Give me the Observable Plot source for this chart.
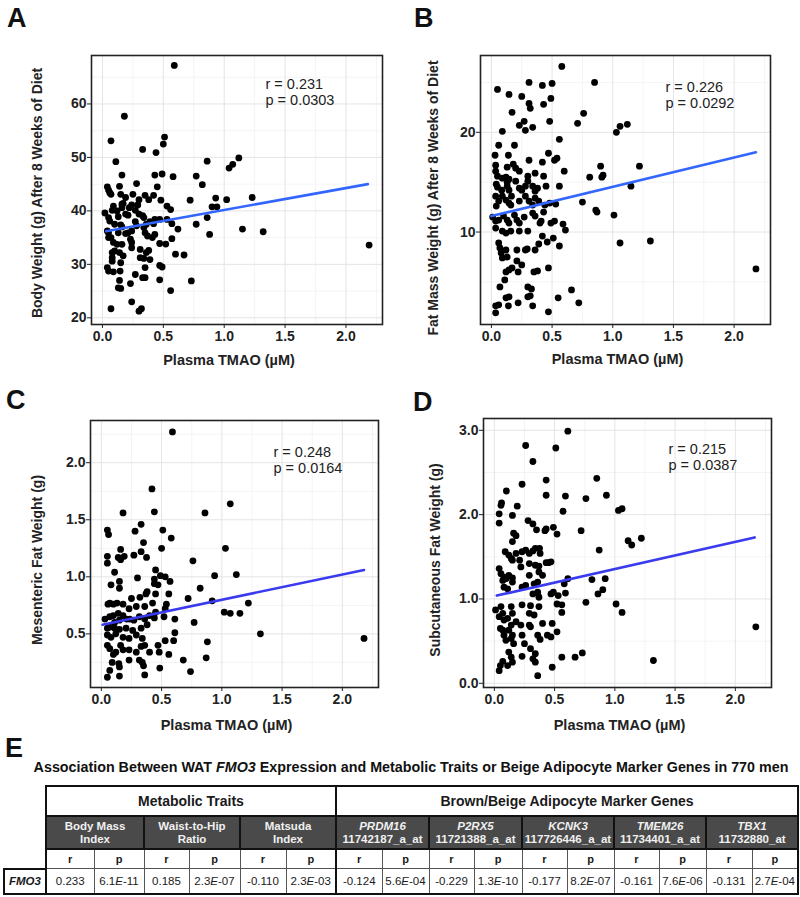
<!DOCTYPE html>
<html><head><meta charset="utf-8">
<script src="https://cdn.jsdelivr.net/npm/d3@7"></script>
<script src="https://cdn.jsdelivr.net/npm/@observablehq/plot@0.6"></script>
<style>
body{margin:0;background:#fff;font-family:"Liberation Sans",Arial,sans-serif;}
#page{position:relative;width:800px;height:897px;overflow:hidden;background:#fff;}
.panel{position:absolute;}
.letter{position:absolute;font-size:27px;font-weight:bold;line-height:27px;color:#111;}
#ttl{position:absolute;left:0;width:822px;top:758px;text-align:center;font-size:14.3px;font-weight:bold;color:#111;white-space:nowrap;line-height:18px;}
table.tb{position:absolute;left:3px;top:785px;width:794px;border-collapse:collapse;table-layout:fixed;color:#1a1a1a;}
table.tb td{padding:0;text-align:center;vertical-align:middle;overflow:hidden;white-space:nowrap;}
td.blank{border:none;}
td.grp{height:28px;font-size:14px;font-weight:bold;border:2px solid #111;background:#fff;}
td.dark{height:31px;background:#4a4a4a;color:#f0f0f0;font-size:11.5px;font-weight:bold;line-height:13px;border:2px solid #111;}
td.rp{height:18px;font-size:11px;font-weight:bold;border:1px solid #555;}
td.val{height:24px;font-size:11.5px;border:1px solid #555;}
td.row{font-size:11.5px;font-weight:bold;font-style:italic;border:2px solid #111;}
td.lg{border-left:2px solid #111;}
td.rg{border-right:2px solid #111;}
td.bt{border-bottom:2px solid #111;}
</style></head><body><div id="page"></div>
<script>
// ---------- data ----------
const xTicks = [0, 0.5, 1, 1.5, 2];
const xMinor = [0.25, 0.75, 1.25, 1.75, 2.25];
const xLabel = "Plasma TMAO (\u00b5M)";

const pointsA = [[0.59,67.2],[0.18,57.7],[0.07,53.1],[0.51,53.8],[0.50,52.5],[0.33,51.5],[0.44,50.9],[0.11,49.2],[0.86,49.3],[1.12,49.9],[1.07,48.7],[1.04,48.0],[0.16,46.7],[0.43,46.7],[0.49,46.9],[0.58,46.4],[0.77,46.5],[0.82,44.9],[0.28,45.1],[0.04,44.5],[0.14,44.6],[0.45,44.5],[0.05,43.9],[0.06,43.4],[0.07,43.1],[0.15,43.1],[0.19,42.5],[0.25,43.1],[0.30,42.1],[0.35,42.9],[0.38,42.1],[0.42,42.9],[0.48,42.0],[0.72,42.0],[0.93,42.4],[1.02,42.1],[1.23,42.5],[0.16,41.25],[0.17,41.4],[0.24,41.1],[0.29,41.1],[0.09,40.9],[0.22,40.6],[0.16,40.6],[0.53,40.9],[0.56,40.25],[0.90,40.75],[0.94,40.75],[0.02,39.6],[0.08,40.1],[0.05,38.75],[0.12,40.0],[0.13,38.9],[0.21,39.2],[0.27,40.1],[0.30,39.4],[0.33,39.1],[0.34,38.75],[0.19,39.4],[0.43,38.4],[0.47,38.4],[0.53,38.4],[0.86,38.75],[0.57,37.6],[0.62,36.6],[0.77,37.5],[0.10,37.5],[0.15,37.4],[0.16,37.0],[0.13,35.9],[0.19,35.75],[0.21,35.9],[0.24,36.25],[0.28,37.2],[0.27,38.0],[0.06,38.1],[0.04,36.25],[0.05,35.9],[0.34,36.9],[0.35,35.9],[0.36,37.5],[0.39,38.0],[0.42,37.6],[0.37,35.3],[0.41,35.0],[0.43,35.6],[0.88,35.6],[1.15,36.6],[1.32,36.1],[0.57,34.8],[0.47,33.9],[0.52,33.8],[0.09,34.1],[0.12,33.75],[0.16,33.75],[0.23,34.7],[0.24,34.1],[0.24,33.1],[0.31,32.8],[0.38,32.6],[0.36,32.2],[0.08,32.2],[0.10,32.5],[0.14,32.2],[0.17,31.6],[0.08,31.25],[0.31,31.25],[0.34,31.1],[0.39,30.9],[2.19,33.6],[0.05,35.0],[0.07,35.0],[0.60,31.9],[0.67,31.75],[0.47,29.8],[0.49,29.5],[0.04,29.4],[0.05,28.75],[0.09,28.6],[0.15,30.3],[0.145,28.75],[0.14,27.0],[0.08,30.6],[0.27,28.1],[0.35,29.4],[0.33,27.5],[0.35,27.5],[0.47,27.1],[0.73,26.9],[0.23,26.4],[0.56,25.1],[0.13,25.6],[0.15,25.5],[0.24,23.0],[0.07,21.7],[0.30,21.25],[0.32,21.7]];
const fitA = [[0.03,36.2],[2.18,45.0]];

const pointsB = [[0.58,26.6],[0.31,25.0],[0.50,24.9],[0.42,24.7],[0.85,25.0],[0.05,24.3],[0.145,23.8],[0.25,23.6],[0.49,23.4],[0.31,22.9],[0.32,22.4],[0.43,22.8],[0.76,21.9],[0.17,22.0],[0.27,21.1],[0.23,20.7],[0.28,20.2],[0.34,20.5],[0.48,21.1],[0.71,20.9],[0.09,20.1],[1.03,20.0],[1.06,20.6],[1.12,20.8],[0.56,19.3],[0.06,18.7],[0.19,18.7],[0.03,17.7],[0.14,17.7],[0.31,17.2],[0.47,17.9],[0.52,17.2],[0.54,17.4],[0.42,17.0],[0.035,16.7],[0.035,16.1],[0.13,16.5],[0.18,16.8],[0.20,16.4],[0.90,16.6],[1.22,16.6],[0.60,16.1],[0.05,15.6],[0.09,15.4],[0.12,15.5],[0.145,15.3],[0.23,16.1],[0.30,15.6],[0.36,15.9],[0.43,15.6],[0.81,15.5],[0.91,15.5],[0.92,15.7],[1.15,14.6],[0.04,14.8],[0.05,14.5],[0.085,14.2],[0.13,15.0],[0.13,14.6],[0.145,14.2],[0.20,15.1],[0.23,14.4],[0.25,14.2],[0.28,14.6],[0.30,15.1],[0.34,14.6],[0.36,14.1],[0.38,14.4],[0.45,14.6],[0.56,14.6],[0.035,13.6],[0.06,13.1],[0.04,12.6],[0.09,13.6],[0.12,13.2],[0.145,12.9],[0.165,13.6],[0.16,12.7],[0.23,13.1],[0.28,13.6],[0.31,13.1],[0.34,12.7],[0.36,13.4],[0.39,13.1],[0.44,12.7],[0.48,12.9],[0.53,12.8],[0.75,13.0],[0.86,12.2],[0.87,12.0],[1.01,11.7],[0.01,11.5],[0.035,11.1],[0.06,11.2],[0.10,11.6],[0.13,11.2],[0.145,10.9],[0.19,11.7],[0.21,11.2],[0.27,11.5],[0.34,11.9],[0.36,11.6],[0.41,11.1],[0.43,12.0],[0.49,10.9],[0.52,11.1],[0.59,10.8],[0.61,10.2],[0.23,10.9],[0.035,10.4],[0.09,10.1],[0.12,9.9],[0.16,10.1],[0.23,10.1],[0.30,10.1],[0.40,10.9],[0.42,9.6],[0.51,9.4],[0.56,8.6],[0.46,9.0],[0.39,8.8],[0.36,8.2],[0.295,8.3],[0.28,8.2],[0.21,8.2],[1.06,8.9],[1.31,9.1],[2.18,6.3],[0.06,8.9],[0.07,8.4],[0.08,7.9],[0.09,7.4],[0.13,7.5],[0.12,8.2],[0.21,7.1],[0.25,6.7],[0.145,6.2],[0.17,6.4],[0.12,6.0],[0.11,5.2],[0.22,6.0],[0.35,6.0],[0.38,6.1],[0.47,6.4],[0.07,4.5],[0.30,4.5],[0.33,4.3],[0.32,3.6],[0.30,3.5],[0.66,4.2],[0.55,3.4],[0.72,2.9],[0.12,3.4],[0.145,3.5],[0.14,2.6],[0.22,2.9],[0.34,2.6],[0.035,2.6],[0.06,2.7],[0.035,1.9],[0.47,2.0]];
const fitB = [[0.0,11.6],[2.18,18.0]];

const pointsC = [[0.59,2.27],[0.42,1.77],[1.07,1.64],[0.18,1.56],[0.44,1.57],[0.86,1.56],[0.33,1.46],[0.05,1.41],[0.06,1.37],[0.28,1.40],[0.51,1.41],[0.58,1.34],[0.35,1.30],[0.33,1.22],[0.50,1.25],[1.03,1.25],[0.16,1.24],[0.05,1.18],[0.05,1.12],[0.14,1.17],[0.16,1.15],[0.19,1.18],[0.27,1.19],[0.375,1.17],[0.76,1.14],[0.11,1.04],[0.45,1.06],[0.30,0.99],[0.08,0.93],[0.15,0.96],[0.15,0.90],[0.44,0.98],[0.49,1.01],[0.53,1.00],[0.44,0.94],[0.47,0.93],[0.57,0.96],[0.94,1.01],[1.12,1.02],[0.38,0.87],[0.37,0.85],[0.56,0.85],[0.82,0.90],[0.25,0.81],[0.32,0.82],[0.45,0.85],[0.425,0.77],[0.72,0.81],[0.92,0.79],[0.055,0.76],[0.07,0.77],[0.10,0.76],[0.13,0.77],[0.18,0.76],[0.23,0.72],[0.29,0.74],[0.36,0.74],[0.54,0.76],[1.02,0.69],[1.07,0.68],[1.15,0.68],[1.22,0.77],[0.03,0.63],[0.07,0.65],[0.10,0.66],[0.14,0.68],[0.18,0.66],[0.21,0.63],[0.15,0.62],[0.11,0.60],[0.235,0.63],[0.27,0.62],[0.315,0.65],[0.36,0.63],[0.40,0.66],[0.45,0.69],[0.52,0.65],[0.61,0.63],[0.77,0.60],[0.05,0.55],[0.07,0.56],[0.11,0.55],[0.15,0.54],[0.205,0.55],[0.26,0.53],[0.33,0.55],[0.38,0.58],[0.44,0.64],[0.53,0.72],[1.32,0.50],[2.18,0.46],[0.05,0.49],[0.08,0.47],[0.12,0.50],[0.18,0.47],[0.23,0.46],[0.29,0.49],[0.34,0.46],[0.61,0.51],[0.53,0.44],[0.60,0.44],[0.88,0.43],[0.05,0.40],[0.07,0.37],[0.10,0.32],[0.12,0.34],[0.16,0.40],[0.18,0.36],[0.23,0.36],[0.29,0.34],[0.33,0.39],[0.36,0.40],[0.40,0.34],[0.47,0.40],[0.48,0.34],[0.56,0.32],[0.68,0.27],[0.87,0.29],[0.09,0.25],[0.145,0.24],[0.23,0.27],[0.315,0.27],[0.34,0.25],[0.15,0.21],[0.35,0.22],[0.485,0.20],[0.74,0.17],[0.07,0.18],[0.05,0.12],[0.15,0.13],[0.36,0.14]];
const fitC = [[0.01,0.58],[2.18,1.06]];

const pointsD = [[0.61,2.99],[0.26,2.82],[0.51,2.79],[0.32,2.63],[0.85,2.43],[0.23,2.36],[0.43,2.41],[0.10,2.28],[0.43,2.23],[0.59,2.22],[0.76,2.19],[0.93,2.23],[0.06,2.14],[0.055,2.11],[0.19,2.10],[0.57,2.04],[1.03,2.05],[1.06,2.07],[0.04,2.01],[0.04,1.90],[0.15,1.99],[0.28,1.93],[0.32,1.89],[0.35,1.82],[0.43,1.83],[0.42,1.81],[0.49,1.85],[0.52,1.77],[0.72,1.81],[0.16,1.78],[0.18,1.75],[0.15,1.68],[1.11,1.69],[1.14,1.64],[1.22,1.72],[0.87,1.58],[0.09,1.56],[0.12,1.52],[0.14,1.48],[0.15,1.46],[0.18,1.54],[0.21,1.46],[0.23,1.56],[0.26,1.58],[0.29,1.54],[0.32,1.57],[0.34,1.60],[0.375,1.60],[0.38,1.54],[0.29,1.42],[0.34,1.40],[0.37,1.39],[0.43,1.43],[0.45,1.43],[0.47,1.44],[0.22,1.38],[0.37,1.32],[0.04,1.36],[0.055,1.30],[0.08,1.26],[0.096,1.24],[0.12,1.28],[0.15,1.25],[0.07,1.22],[0.15,1.20],[0.08,1.14],[0.11,1.12],[0.23,1.14],[0.26,1.16],[0.33,1.18],[0.36,1.20],[0.40,1.28],[0.29,1.28],[0.61,1.24],[0.58,1.18],[0.59,1.07],[0.81,1.23],[0.92,1.24],[0.90,1.11],[0.86,1.06],[0.47,1.06],[0.49,1.08],[0.53,1.04],[0.52,0.94],[0.56,0.93],[0.56,0.84],[0.32,1.06],[0.36,1.08],[0.37,1.02],[0.76,0.96],[1.01,0.94],[1.06,0.84],[0.01,0.87],[0.055,0.91],[0.07,0.83],[0.14,0.91],[0.15,0.83],[0.23,0.93],[0.30,0.92],[0.37,0.91],[0.04,0.79],[0.08,0.75],[0.11,0.77],[0.14,0.69],[0.12,0.63],[0.07,0.63],[0.05,0.65],[0.18,0.73],[0.22,0.69],[0.29,0.83],[0.33,0.81],[0.29,0.69],[0.30,0.67],[0.40,0.71],[0.48,0.71],[0.08,0.57],[0.096,0.51],[0.14,0.53],[0.15,0.57],[0.16,0.47],[0.23,0.57],[0.25,0.47],[0.36,0.57],[0.38,0.52],[0.44,0.57],[0.47,0.55],[0.52,0.61],[2.17,0.67],[0.30,0.41],[0.34,0.35],[0.12,0.37],[0.14,0.31],[0.23,0.32],[0.32,0.29],[0.34,0.25],[0.56,0.31],[0.67,0.31],[0.73,0.36],[1.32,0.27],[0.07,0.26],[0.05,0.21],[0.04,0.15],[0.15,0.25],[0.11,0.21],[0.48,0.19],[0.36,0.09]];
const fitD = [[0.02,1.04],[2.16,1.73]];

const statsR = ["0.231", "0.226", "0.248", "0.215"];
const statsP = ["0.0303", "0.0292", "0.0164", "0.0387"];
const yLabels = ["Body Weight (g) After 8 Weeks of Diet", "Fat Mass Weight (g) After 8 Weeks of Diet", "Mesenteric Fat Weight (g)", "Subcutaneous Fat Weight (g)"];

const tableTitle = ["Association Between WAT ", "FMO3", " Expression and Metabolic Traits or Beige Adipocyte Marker Genes in 770 men"];
const groupHeads = ["Metabolic Traits", "Brown/Beige Adipocyte Marker Genes"];
const traitNames = [["Body Mass", "Index"], ["Waist-to-Hip", "Ratio"], ["Matsuda", "Index"]];
const geneNames = ["PRDM16", "P2RX5", "KCNK3", "TMEM26", "TBX1"];
const probeIds = ["11742187_a_at", "11721388_a_at", "117726446_a_at", "11734401_a_at", "11732880_at"];
const rowGene = "FMO3";
const rValues = ["0.233", "0.185", "-0.110", "-0.124", "-0.229", "-0.177", "-0.161", "-0.131"];
const pValues = ["6.1E-11", "2.3E-07", "2.3E-03", "5.6E-04", "1.3E-10", "8.2E-07", "7.6E-06", "2.7E-04"];

// ---------- drawing ----------
const page = document.getElementById("page");
const FONT = "Liberation Sans, Arial, Helvetica, sans-serif";

function panel(cfg) {
  const xy = {x: d => d[0], y: d => d[1]};
  const svg = Plot.plot({
    width: cfg.w, height: cfg.h,
    marginLeft: cfg.ml, marginRight: cfg.mr, marginTop: cfg.mt, marginBottom: cfg.mb,
    style: {fontFamily: FONT, fontSize: "14px", fontWeight: "bold", color: "#222", background: "transparent", overflow: "visible"},
    x: {domain: [-0.09, 2.30]},
    y: {domain: cfg.yDomain},
    marks: [
      Plot.gridX({ticks: xMinor, stroke: "#f1f1f1", strokeOpacity: 1, strokeWidth: 0.8}),
      Plot.gridY({ticks: cfg.yMinor, stroke: "#f1f1f1", strokeOpacity: 1, strokeWidth: 0.8}),
      Plot.gridX({ticks: xTicks, stroke: "#e4e4e4", strokeOpacity: 1, strokeWidth: 1}),
      Plot.gridY({ticks: cfg.yTicks, stroke: "#e4e4e4", strokeOpacity: 1, strokeWidth: 1}),
      Plot.axisX({ticks: xTicks, tickFormat: d3.format(".1f"), tickSize: 4, tickPadding: 3, label: null, fontSize: 14}),
      Plot.axisY({ticks: cfg.yTicks, tickFormat: cfg.yFormat, tickSize: 4, tickPadding: 1, label: null, fontSize: 14}),
      Plot.dot(cfg.points, {...xy, r: 3.4, fill: "#000", stroke: "none"}),
      Plot.line(cfg.fit, {...xy, stroke: cfg.lineColor, strokeWidth: 2.6}),
      Plot.frame({stroke: "#222", strokeWidth: 1.6}),
      Plot.text([`r = ${cfg.r}\np = ${cfg.p}`], {text: d => d, frameAnchor: "top-left", dx: cfg.ndx, dy: cfg.ndy, textAnchor: "start", lineAnchor: "middle", lineHeight: 1.12, fontSize: 14.5, fontWeight: "normal", fill: "#222"}),
      Plot.text([cfg.yLabel], {text: d => d, frameAnchor: "left", rotate: -90, dx: cfg.ydx, dy: cfg.ydy, textAnchor: "middle", lineAnchor: "middle", fontSize: 14, fontWeight: "bold", fill: "#222"}),
      Plot.text([xLabel], {text: d => d, frameAnchor: "bottom", dx: -8, dy: cfg.xdy, textAnchor: "middle", lineAnchor: "middle", fontSize: 14.5, fontWeight: "bold", fill: "#222"})
    ]
  });
  svg.classList.add("panel");
  svg.style.left = cfg.left + "px";
  svg.style.top = cfg.top + "px";
  page.appendChild(svg);
}

panel({points: pointsA, fit: fitA, yDomain: [18.75, 69.06], yTicks: [20, 30, 40, 50, 60], yMinor: [25, 35, 45, 55, 65], yFormat: d3.format("d"),
  yLabel: yLabels[0], r: statsR[0], p: statsP[0], lineColor: "#3366ff",
  left: 0, top: 0, w: 400, h: 372, ml: 91, mr: 18, mt: 55, mb: 48, ndx: 174, ndy: 36, ydx: -54, ydy: 3, xdy: 36});
panel({points: pointsB, fit: fitB, yDomain: [0.73, 27.7], yTicks: [10, 20], yMinor: [5, 15, 25], yFormat: d3.format("d"),
  yLabel: yLabels[1], r: statsR[1], p: statsP[1], lineColor: "#3366ff",
  left: 400, top: 0, w: 400, h: 372, ml: 80, mr: 30, mt: 55, mb: 48, ndx: 185, ndy: 39, ydx: -47, ydy: 8, xdy: 35});
panel({points: pointsC, fit: fitC, yDomain: [0.03, 2.37], yTicks: [0.5, 1.0, 1.5, 2.0], yMinor: [0.25, 0.75, 1.25, 1.75, 2.25], yFormat: d3.format(".1f"),
  yLabel: yLabels[2], r: statsR[2], p: statsP[2], lineColor: "#3a3aee",
  left: 0, top: 380, w: 400, h: 360, ml: 90, mr: 22, mt: 40, mb: 53, ndx: 183, ndy: 39, ydx: -53, ydy: 6, xdy: 38});
panel({points: pointsD, fit: fitD, yDomain: [-0.05, 3.14], yTicks: [0, 1, 2, 3], yMinor: [0.5, 1.5, 2.5], yFormat: d3.format(".1f"),
  yLabel: yLabels[3], r: statsR[3], p: statsP[3], lineColor: "#3a3aee",
  left: 400, top: 380, w: 400, h: 360, ml: 83, mr: 29, mt: 38, mb: 53, ndx: 185, ndy: 38, ydx: -48, ydy: 7, xdy: 38});

// panel letters
[["A", 7, 5], ["B", 414, 5], ["C", 6, 387], ["D", 413, 389], ["E", 5, 735]].forEach(([t, x, y]) => {
  const d = document.createElement("div");
  d.className = "letter"; d.textContent = t;
  d.style.left = x + "px"; d.style.top = y + "px";
  page.appendChild(d);
});

// table title
const ttl = document.createElement("div");
ttl.id = "ttl";
ttl.innerHTML = `${tableTitle[0]}<i>${tableTitle[1]}</i>${tableTitle[2]}`;
page.appendChild(ttl);

// table
const colW = [42, 48, 50, 45, 51, 46, 50, 46, 47, 45, 48, 45, 47, 45, 47, 46, 46];
const fmtP = s => s.replace("E", "<i>E</i>");
let h = `<table class="tb"><colgroup>${colW.map(w => `<col style="width:${w}px">`).join("")}</colgroup>`;
h += `<tr><td class="blank"></td><td class="grp" colspan="6">${groupHeads[0]}</td><td class="grp" colspan="10">${groupHeads[1]}</td></tr>`;
h += `<tr><td class="blank"></td>`;
traitNames.forEach(t => { h += `<td class="dark" colspan="2">${t[0]}<br>${t[1]}</td>`; });
geneNames.forEach((g, i) => { h += `<td class="dark" colspan="2"><i>${g}</i><br>${probeIds[i]}</td>`; });
h += `</tr><tr><td class="blank"></td>`;
rValues.forEach((_, i) => {
  const lg = (i === 0 || i === 3) ? " lg" : "";
  const rg = (i === 7 || i === 2) ? " rg" : "";
  h += `<td class="rp${lg}">r</td><td class="rp${rg}">p</td>`;
});
h += `</tr><tr><td class="row">${rowGene}</td>`;
rValues.forEach((r, i) => {
  const lg = (i === 0 || i === 3) ? " lg" : "";
  const rg = (i === 7 || i === 2) ? " rg" : "";
  h += `<td class="val bt${lg}">${r}</td><td class="val bt${rg}">${fmtP(pValues[i])}</td>`;
});
h += `</tr></table>`;
page.insertAdjacentHTML("beforeend", h);
</script></body></html>
